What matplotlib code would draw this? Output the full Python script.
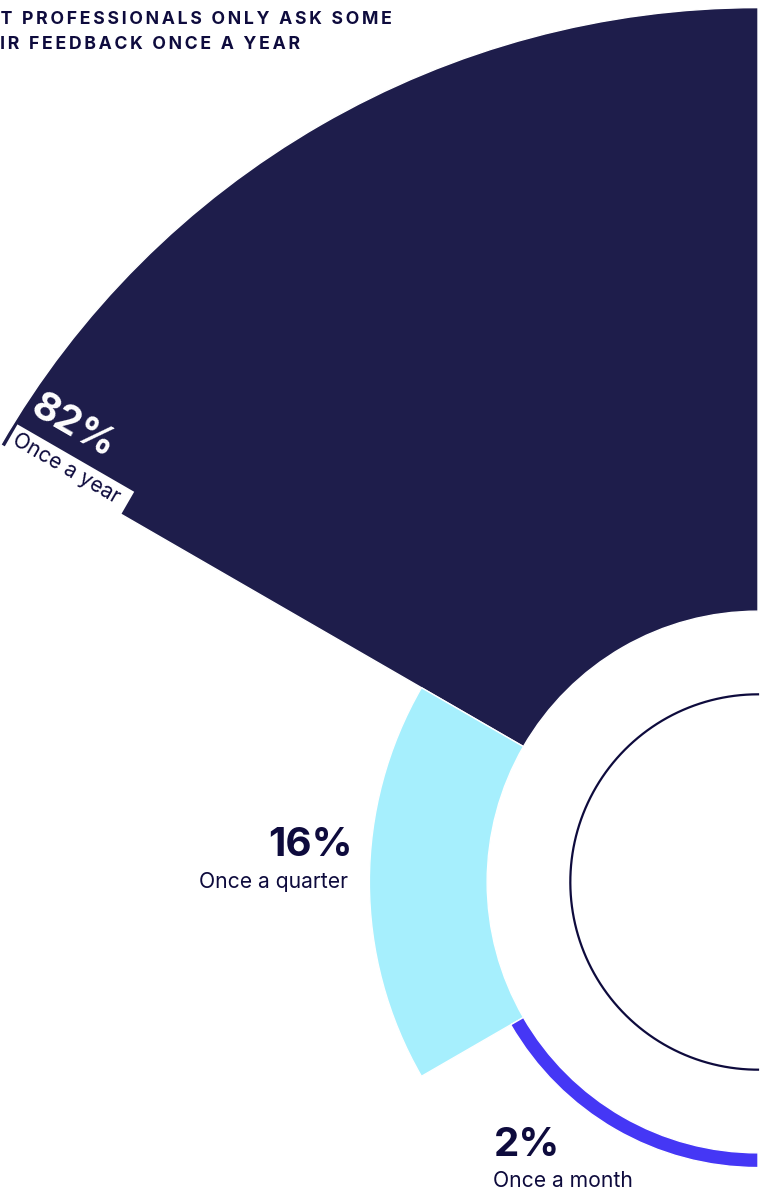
import numpy as np
import matplotlib
matplotlib.use("Agg")
import matplotlib.pyplot as plt

plt.rcParams['font.family'] = ['Inter', 'DejaVu Sans']

# How often IT teams ask end users for feedback
labels = ["Once a year", "Once a quarter", "Once a month"]
shares = [82, 16, 2]
centres = [120, 180, 240]          # wedge centre angles, degrees
colors = ["#1e1d4b", "#a6effd", "#4537f5"]
title_lines = ["MOST IT PROFESSIONALS ONLY ASK SOME", "END USERS FOR THEIR FEEDBACK ONCE A YEAR"]

ink = "#0e0b3d"
W, H, DPI = 767, 1192, 100
cx, cy = 758, 882        # chart centre, pixels from top-left
unit = 7.36              # pixels per percentage point
hole = 36.8              # empty core under the bars
ring = 25.5              # thin guide circle
rmax = 125


def fx(px):
    return px / W


def fy(py):
    return 1 - py / H


def spaced(s, gap="\u2009"):
    return gap.join(s)


fig = plt.figure(figsize=(W / DPI, H / DPI), dpi=DPI)
R = rmax * unit
ax = fig.add_axes([(cx - R) / W, (H - cy - R) / H, 2 * R / W, 2 * R / H], projection="polar")

ax.bar(np.deg2rad(centres), shares, width=np.deg2rad(60), bottom=hole,
       color=colors, edgecolor="white", linewidth=1.0)

th = np.linspace(np.pi / 2, 3 * np.pi / 2, 300)
ax.plot(th, np.full_like(th, ring), color=ink, lw=1.6)
ax.set_ylim(0, rmax)
ax.set_axis_off()

# title, partly running off the left edge
fig.text(fx(392), fy(24), spaced(title_lines[0]), ha="right", va="baseline",
         fontsize=12.7, fontweight="bold", color=ink)
fig.text(fx(300), fy(49), spaced(title_lines[1]), ha="right", va="baseline",
         fontsize=12.7, fontweight="bold", color=ink)

# biggest wedge: labels run along its lower edge
fig.text(fx(28), fy(413), f"{shares[0]}%", rotation=-30, rotation_mode="anchor",
         ha="left", va="baseline", fontsize=28.5, fontweight="bold", color="white")
fig.text(fx(11), fy(444), labels[0] + " ", rotation=-30, rotation_mode="anchor",
         ha="left", va="baseline", fontsize=15.2, color=ink,
         bbox=dict(fc="white", ec="none", boxstyle="square,pad=0.2"))

fig.text(fx(353), fy(856), f"{shares[1]}%", ha="right", va="baseline",
         fontsize=29, fontweight="bold", color=ink)
fig.text(fx(348), fy(888), labels[1], ha="right", va="baseline",
         fontsize=15.2, color=ink)

fig.text(fx(494), fy(1156), f"{shares[2]}%", ha="left", va="baseline",
         fontsize=29, fontweight="bold", color=ink)
fig.text(fx(493), fy(1187), labels[2], ha="left", va="baseline",
         fontsize=15.2, color=ink)

fig.savefig("out.png", dpi=DPI)
